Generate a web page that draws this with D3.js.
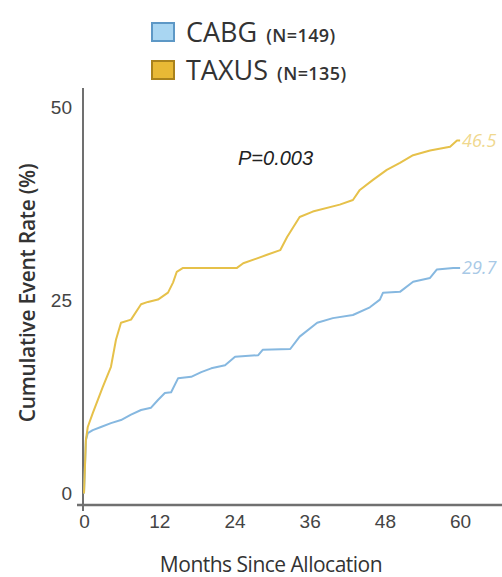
<!DOCTYPE html>
<html>
<head>
<meta charset="utf-8">
<script src="https://d3js.org/d3.v7.min.js"></script>
<style>
  body { margin: 0; background: #fff; }
  svg { display: block; font-family: "Open Sans", "Noto Sans", sans-serif; }
</style>
</head>
<body>
<div id="chart"></div>
<script>
// Kaplan-Meier style curves (months, cumulative %)
var cabgMonths = [0, 0.3, 0.6, 1.4, 2.7, 4.3, 5.9, 7.5, 9.1, 10.7, 11.8, 12.9, 13.9, 15.0, 17.1, 18.7, 20.3, 22.5, 24.1, 27.8, 28.5, 32.9, 34.4, 37.2, 39.7, 42.9, 45.6, 47.2, 47.7, 50.4, 52.5, 55.2, 56.3, 58.9, 60];
var cabgRate   = [0, 6.9, 7.8, 8.2, 8.6, 9.1, 9.5, 10.2, 10.8, 11.1, 12.1, 13.0, 13.1, 14.9, 15.1, 15.7, 16.2, 16.6, 17.7, 17.9, 18.6, 18.7, 20.3, 22.1, 22.7, 23.1, 24.1, 25.1, 26.0, 26.1, 27.4, 27.9, 29.0, 29.2, 29.2];

var taxusMonths = [0, 0.3, 0.6, 1.4, 3.0, 4.3, 5.1, 5.9, 7.5, 9.1, 10.2, 11.8, 13.4, 14.2, 14.8, 15.8, 24.4, 25.4, 29.2, 31.3, 32.4, 34.4, 36.5, 40.8, 42.9, 44.0, 46.1, 48.3, 50.4, 52.5, 55.2, 58.4, 59.5, 60];
var taxusRate   = [0, 6.9, 8.6, 10.4, 13.8, 16.4, 19.9, 22.1, 22.5, 24.5, 24.8, 25.1, 26.0, 27.3, 28.7, 29.2, 29.2, 29.8, 30.9, 31.5, 33.2, 35.8, 36.5, 37.4, 38.0, 39.3, 40.6, 41.9, 42.8, 43.8, 44.4, 44.9, 45.7, 45.7];

var xTicks = [0, 12, 24, 36, 48, 60];
var yTicks = [0, 25, 50];

var seriesNames  = ["CABG", "TAXUS"];
var seriesCounts = ["(N=149)", "(N=135)"];
var endLabels    = ["29.7", "46.5"];
var pLabel = "P=0.003";

var width = 502, height = 577;

var svg = d3.select("#chart")
  .append("svg")
    .attr("width", width)
    .attr("height", height);

var x = d3.scaleLinear().domain([0, 67]).range([84, 504]);
var y = d3.scaleLinear().domain([-1.5, 52.5]).range([505, 88]);

var lineColors = ["#86b8e0", "#e6c14a"];
var boxFill    = ["#a9d6f2", "#e8b935"];
var boxStroke  = ["#5d98c6", "#a9821c"];
var labelColors = ["#a8c9e6", "#f0d88e"];

// axes (labels only, lines drawn by hand)
var xAxis = svg.append("g")
  .attr("transform", "translate(0,505)")
  .call(d3.axisBottom(x).tickValues(xTicks).tickSize(0).tickPadding(10));
xAxis.select(".domain").remove();
xAxis.selectAll("text").style("font-size", "19px").style("fill", "#444");

var yAxis = svg.append("g")
  .attr("transform", "translate(83,0)")
  .call(d3.axisLeft(y).tickValues(yTicks).tickSize(0).tickPadding(11));
yAxis.select(".domain").remove();
yAxis.selectAll("text").style("font-size", "19px").style("fill", "#444");

svg.append("line")
  .attr("x1", 83).attr("x2", 83)
  .attr("y1", y(52.5)).attr("y2", 511)
  .style("stroke", "#707070").style("stroke-width", 2);
svg.append("line")
  .attr("x1", 77).attr("x2", 502)
  .attr("y1", 505).attr("y2", 505)
  .style("stroke", "#707070").style("stroke-width", 2.5);

// axis titles
svg.append("text")
  .attr("x", 271).attr("y", 572)
  .attr("text-anchor", "middle")
  .style("font-size", "21px").style("letter-spacing", "-0.5px").style("fill", "#333")
  .text("Months Since Allocation");

svg.append("text")
  .attr("transform", "translate(35,293) rotate(-90)")
  .attr("text-anchor", "middle")
  .style("font-size", "21px").style("font-weight", 600).style("letter-spacing", "-0.3px").style("fill", "#333")
  .text("Cumulative Event Rate (%)");

// curves
var line = d3.line()
  .x(function(d) { return x(d[0]); })
  .y(function(d) { return y(d[1]); });

var cabg  = d3.zip(cabgMonths, cabgRate);
var taxus = d3.zip(taxusMonths, taxusRate);

[cabg, taxus].forEach(function(data, i) {
  svg.append("path")
    .datum(data)
    .attr("d", line)
    .style("fill", "none")
    .style("stroke", lineColors[i])
    .style("stroke-width", 2)
    .style("stroke-linejoin", "round");

  var last = data[data.length - 1];
  svg.append("text")
    .attr("x", x(last[0]) + 2)
    .attr("y", y(last[1]) + 6)
    .style("font-size", "18px")
    .style("font-style", "italic")
    .style("fill", labelColors[i])
    .text(endLabels[i]);
});

// p value
svg.append("text")
  .attr("x", 238).attr("y", 165)
  .style("font-family", "Liberation Sans, Arial, sans-serif")
  .style("font-size", "20px").style("font-style", "italic").style("fill", "#222")
  .text(pLabel);

// legend
seriesNames.forEach(function(name, i) {
  var cy = 32 + i * 38;
  svg.append("rect")
    .attr("x", 152).attr("y", cy - 9)
    .attr("width", 22).attr("height", 18)
    .style("fill", boxFill[i])
    .style("stroke", boxStroke[i]).style("stroke-width", 2);
  var t = svg.append("text")
    .attr("x", 186).attr("y", cy + 10)
    .style("fill", "#333");
  t.append("tspan").style("font-size", "27px").text(name);
  t.append("tspan").attr("dx", 9).style("font-size", "18px").style("font-weight", 600).style("letter-spacing", "0.4px").text(seriesCounts[i]);
});
</script>
</body>
</html>
